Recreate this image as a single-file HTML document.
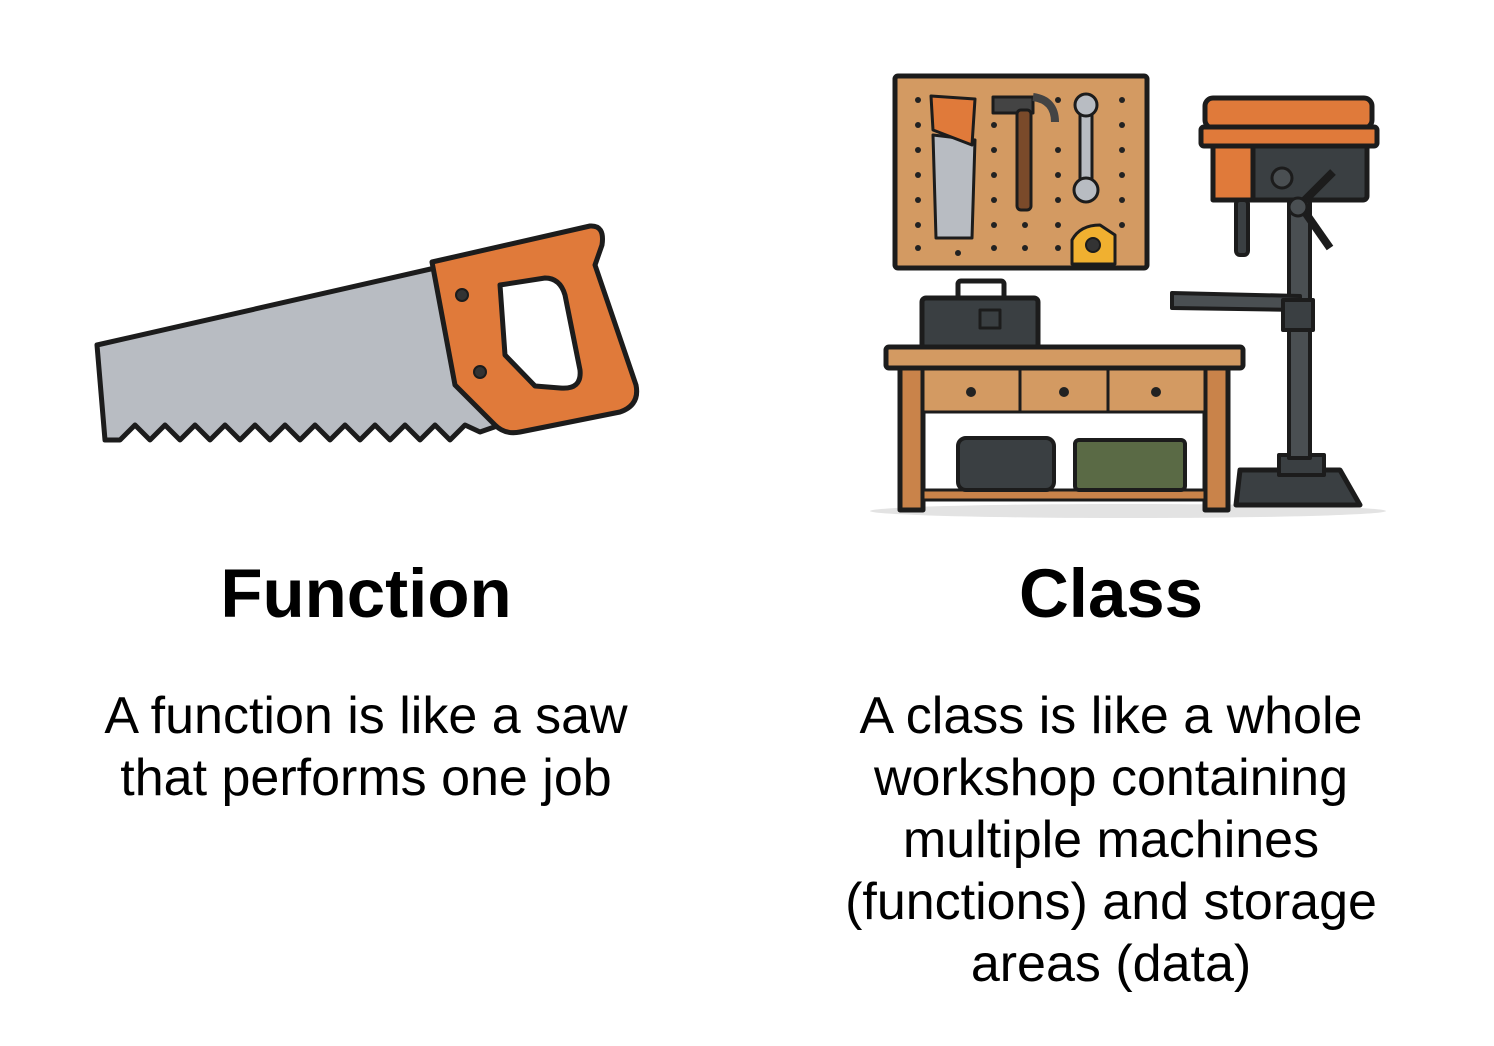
<!DOCTYPE html>
<html><head><meta charset="utf-8"><style>
body{margin:0;width:1494px;height:1046px;background:#fff;font-family:"Liberation Sans",Arial,sans-serif;position:relative;overflow:hidden}
.t{position:absolute;text-align:center;font-weight:bold;font-size:69px;color:#000}
.d{position:absolute;text-align:center;font-size:52px;line-height:62px;color:#000}
</style></head><body>
<svg width="1494" height="1046" style="position:absolute;left:0;top:0" stroke="#1c1c1c" stroke-width="5" stroke-linejoin="round">
<path d="M97,345 L435,268 L500,425 L480,432 L465,425 L450,440 L435,425 L420,440 L405,425 L390,440 L375,425 L360,440 L345,425 L330,440 L315,425 L300,440 L285,425 L270,440 L255,425 L240,440 L225,425 L210,440 L195,425 L180,440 L165,425 L150,440 L135,425 L120,440 L105,440 Z" fill="#b8bcc2"/>
<path d="M432,262 L590,226 Q605,225 602,245 L595,265 L636,385 Q640,405 620,412 L520,432 Q505,435 495,425 L455,385 Z" fill="#e07a3a"/>
<path d="M500,285 L545,278 Q560,278 565,295 L580,370 Q582,390 560,388 L535,386 L505,355 Z" fill="#fff"/>
<circle cx="462" cy="295" r="6" fill="#333" stroke-width="2"/>
<circle cx="480" cy="372" r="6" fill="#333" stroke-width="2"/>
<ellipse cx="1128" cy="511" rx="258" ry="7" fill="#e3e3e3" stroke="none"/>
<rect x="895" y="76" width="252" height="192" rx="3" fill="#d39a62"/>
<g fill="#222" stroke="none">
<circle cx="918" cy="100" r="3"/><circle cx="918" cy="125" r="3"/><circle cx="918" cy="150" r="3"/><circle cx="918" cy="175" r="3"/><circle cx="918" cy="200" r="3"/><circle cx="918" cy="225" r="3"/><circle cx="918" cy="248" r="3"/>
<circle cx="994" cy="125" r="3"/><circle cx="994" cy="150" r="3"/><circle cx="994" cy="175" r="3"/><circle cx="994" cy="200" r="3"/><circle cx="994" cy="225" r="3"/><circle cx="994" cy="248" r="3"/>
<circle cx="1058" cy="100" r="3"/><circle cx="1058" cy="150" r="3"/><circle cx="1058" cy="175" r="3"/><circle cx="1058" cy="200" r="3"/><circle cx="1058" cy="225" r="3"/><circle cx="1058" cy="248" r="3"/>
<circle cx="1122" cy="100" r="3"/><circle cx="1122" cy="125" r="3"/><circle cx="1122" cy="150" r="3"/><circle cx="1122" cy="175" r="3"/><circle cx="1122" cy="200" r="3"/><circle cx="1122" cy="225" r="3"/>
<circle cx="958" cy="253" r="3"/><circle cx="1025" cy="225" r="3"/><circle cx="1025" cy="248" r="3"/>
</g>
<path d="M933,135 L975,140 L972,238 L936,238 Z" fill="#b8bcc2" stroke-width="3"/>
<path d="M931,96 L975,99 L972,145 L933,130 Z" fill="#e07a3a" stroke-width="3"/>
<rect x="993" y="97" width="40" height="16" fill="#444" stroke-width="3"/>
<path d="M1033,97 Q1055,100 1055,122" fill="none" stroke="#444" stroke-width="8"/>
<rect x="1017" y="110" width="14" height="100" rx="4" fill="#7a4a2a" stroke-width="3"/>
<rect x="1080" y="110" width="12" height="85" fill="#b8bcc2" stroke-width="3"/>
<circle cx="1086" cy="105" r="11" fill="#b8bcc2" stroke-width="3"/>
<circle cx="1086" cy="190" r="12" fill="#b8bcc2" stroke-width="3"/>
<path d="M1072,264 L1072,240 Q1080,225 1100,225 L1115,235 L1115,264 Z" fill="#f0b030" stroke-width="3"/>
<circle cx="1093" cy="245" r="7" fill="#333" stroke-width="2"/>
<rect x="958" y="281" width="46" height="18" rx="3" fill="none" stroke-width="5"/>
<rect x="922" y="298" width="116" height="50" rx="4" fill="#3a3f42"/>
<rect x="980" y="310" width="20" height="18" fill="#3a3f42" stroke-width="3"/>
<rect x="900" y="365" width="23" height="145" fill="#c9834a"/>
<rect x="1205" y="365" width="23" height="145" fill="#c9834a"/>
<rect x="923" y="490" width="282" height="10" fill="#c9834a" stroke-width="3"/>
<rect x="923" y="368" width="282" height="44" fill="#d39a62" stroke-width="3"/>
<line x1="1020" y1="368" x2="1020" y2="412" stroke-width="3"/><line x1="1108" y1="368" x2="1108" y2="412" stroke-width="3"/>
<circle cx="971" cy="392" r="5" fill="#222" stroke="none"/><circle cx="1064" cy="392" r="5" fill="#222" stroke="none"/><circle cx="1156" cy="392" r="5" fill="#222" stroke="none"/>
<rect x="886" y="347" width="357" height="21" rx="3" fill="#d39a62"/>
<rect x="958" y="438" width="96" height="52" rx="8" fill="#3a3f42" stroke-width="4"/>
<rect x="1075" y="440" width="110" height="50" rx="4" fill="#5a6a45" stroke-width="4"/>
<path d="M1240,470 L1340,470 L1360,505 L1236,505 Z" fill="#3a3f42"/>
<rect x="1279" y="455" width="45" height="20" fill="#3a3f42" stroke-width="4"/>
<rect x="1289" y="200" width="21" height="258" fill="#4a4f52" stroke-width="4"/>
<path d="M1172,293 L1300,296 L1300,310 L1172,308 Z" fill="#4a4f52" stroke-width="4"/>
<rect x="1283" y="300" width="30" height="30" fill="#3a3f42" stroke-width="4"/>
<rect x="1213" y="143" width="154" height="57" rx="4" fill="#3a3f42"/>
<rect x="1213" y="143" width="40" height="57" fill="#e07a3a"/>
<rect x="1236" y="200" width="12" height="55" rx="4" fill="#3a3f42" stroke-width="4"/>
<circle cx="1282" cy="178" r="10" fill="#4a4f52" stroke-width="3"/>
<line x1="1300" y1="205" x2="1333" y2="172" stroke-width="8"/><line x1="1300" y1="205" x2="1330" y2="248" stroke-width="8"/>
<circle cx="1298" cy="207" r="9" fill="#4a4f52" stroke-width="3"/>
<rect x="1205" y="98" width="167" height="30" rx="8" fill="#e07a3a"/>
<rect x="1201" y="127" width="176" height="19" rx="3" fill="#e07a3a"/>
</svg>
<div class="t" style="left:166px;top:554px;width:400px">Function</div>
<div class="t" style="left:911px;top:554px;width:400px">Class</div>
<div class="d" style="left:16px;top:685px;width:700px">A function is like a saw<br>that performs one job</div>
<div class="d" style="left:761px;top:685px;width:700px">A class is like a whole<br>workshop containing<br>multiple machines<br>(functions) and storage<br>areas (data)</div>
</body></html>
